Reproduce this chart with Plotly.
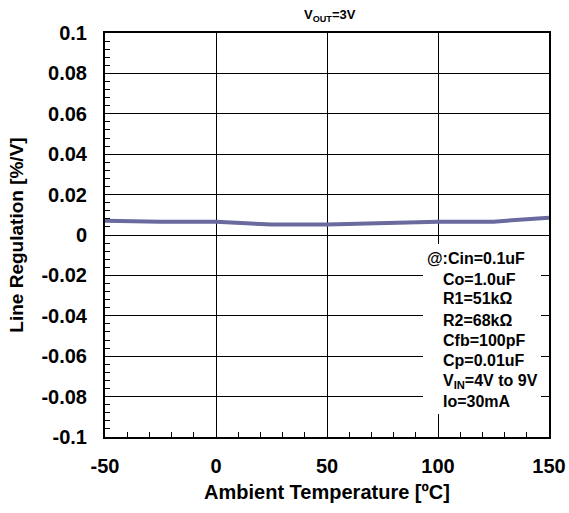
import plotly.graph_objects as go

temperature = [-50, -25, 0, 25, 50, 75, 100, 125, 150]
line_regulation = [0.0071, 0.0065, 0.0065, 0.0052, 0.0052, 0.006, 0.0065, 0.0066, 0.0086]

x_ticks = [-50, 0, 50, 100, 150]
y_ticks = [0.1, 0.08, 0.06, 0.04, 0.02, 0, -0.02, -0.04, -0.06, -0.08, -0.1]
y_tick_text = ["0.1", "0.08", "0.06", "0.04", "0.02", "0", "-0.02", "-0.04", "-0.06", "-0.08", "-0.1"]

conditions = ["@:Cin=0.1uF", "Co=1.0uF", "R1=51kΩ", "R2=68kΩ", "Cfb=100pF",
              "Cp=0.01uF", "V<sub>IN</sub>=4V to 9V", "Io=30mA"]

W, H = 569, 513
L, R, T, B = 105, 549, 33, 437

def px(x):
    return (x - L) / (R - L)

def py(y):
    return (B - y) / (B - T)

FONT = "Liberation Sans, Arial, sans-serif"

fig = go.Figure()
fig.add_trace(go.Scatter(
    x=temperature, y=line_regulation, mode="lines",
    line=dict(color="#6a6a9e", width=4), showlegend=False, hoverinfo="skip"))

axis_common = dict(
    showline=True, linecolor="black", linewidth=2, mirror=True,
    showgrid=True, gridcolor="black", gridwidth=1,
    zeroline=False, ticks="inside", ticklen=5, tickcolor="black",
    tickfont=dict(family=FONT, size=20, color="black", weight="bold"),
)

fig.update_xaxes(
    range=[-50, 150], tickvals=x_ticks, ticktext=[str(v) for v in x_ticks],
    minor=dict(dtick=10, ticks="inside", ticklen=5, tickcolor="black", showgrid=False),
    ticklabelstandoff=10,
    title=dict(text="Ambient Temperature [ºC]", font=dict(family=FONT, size=20, color="black", weight="bold"), standoff=9),
    **axis_common)
fig.update_yaxes(
    range=[-0.1, 0.1], tickvals=y_ticks, ticktext=y_tick_text,
    minor=dict(dtick=0.004, tick0=0, ticks="inside", ticklen=5, tickcolor="black", showgrid=False),
    ticklabelstandoff=12,
    title=dict(text="Line Regulation [%/V]", font=dict(family=FONT, size=19, color="black", weight="bold"), standoff=13),
    **axis_common)

fig.add_shape(type="rect", xref="paper", yref="paper",
              x0=px(423), x1=px(541), y0=py(414), y1=py(244),
              fillcolor="white", line=dict(width=0), layer="above")

line_y = [258, 279, 299, 320, 340, 360, 381, 401]
for i, (txt, yy) in enumerate(zip(conditions, line_y)):
    fig.add_annotation(xref="paper", yref="paper", x=px(425 if i == 0 else 441), y=py(yy),
                       text=txt, showarrow=False, xanchor="left", yanchor="middle",
                       font=dict(family=FONT, size=16, color="black", weight="bold"))

fig.add_annotation(xref="paper", yref="paper", x=px(330), y=py(16),
                   text="V<sub>OUT</sub>=3V", showarrow=False, xanchor="center", yanchor="middle",
                   font=dict(family=FONT, size=13, color="black", weight="bold"))

fig.update_layout(
    width=W, height=H, margin=dict(l=L, r=W - R, t=T, b=H - B, autoexpand=False),
    paper_bgcolor="white", plot_bgcolor="white",
    font=dict(family=FONT, color="black"),
)

fig.write_html("out.html", config={"displayModeBar": False},
               post_script="document.body.style.margin='0';document.body.style.padding='0';")
